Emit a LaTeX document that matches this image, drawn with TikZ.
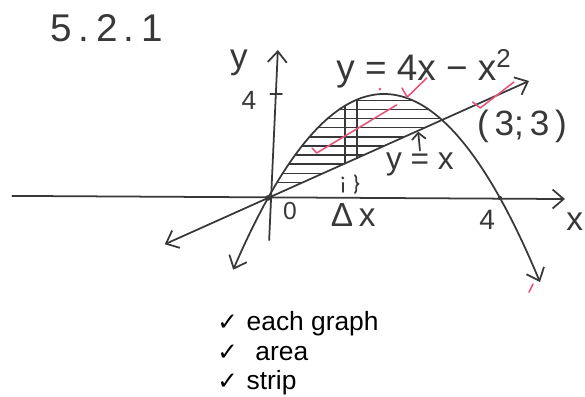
\documentclass[tikz,border=0pt]{standalone}
\usepackage{fontspec}
\setmainfont{Liberation Sans}
\newfontfamily\checkfont{DejaVu Sans}
\usetikzlibrary{arrows.meta}
\definecolor{inkgray}{HTML}{383838}
\definecolor{markred}{HTML}{E5557A}

\begin{document}
\begin{tikzpicture}[
  x=1.16cm, y=0.52cm,
  >={Straight Barb[length=2.2mm, width=3.8mm]},
  pen/.style={draw=inkgray, line width=1pt, line cap=round, line join=round},
  hatchline/.style={draw=inkgray, line width=0.8pt},
  handlabel/.style={text=inkgray, font=\fontsize{18}{18}\selectfont, inner sep=1pt},
  tickmark/.style={draw=markred, line width=0.9pt, line cap=round, line join=round},
  listitem/.style={anchor=base west, font=\fontsize{15}{17}\selectfont, inner sep=0pt},
  listcheck/.style={font=\checkfont\fontsize{15}{15}\selectfont},
]
\useasboundingbox (-4.621,-7.654) rectangle (5.466,7.615);

% Axes
\coordinate (xleft) at (-4.41,0.08);
\coordinate (xright) at (5.07,-0.04);
\coordinate (ybottom) at (0.02,-1.62);
\coordinate (ytop) at (0.17,5.69);
\draw[pen] (xleft) -- (xright);
\draw[pen, ->] (xright) -- ++(0.05,0);
\draw[pen, ->] (ybottom) -- (ytop);
\draw[pen] (0.04,4) -- (0.24,4);

% Shaded region between the two graphs
\begin{scope}
  \clip (0,0) -- plot[domain=0:3, samples=40] (\x,{4*\x-\x*\x}) -- cycle;
  \foreach \h in {0.6,0.95,...,3.9}
    \draw[hatchline] (-0.2,\h) -- (3.6,\h);
\end{scope}

% Strip of width delta x
\draw[pen] (1.33,1.33) -- (1.33,3.551);
\draw[pen] (1.53,1.53) -- (1.53,3.779);
\fill[inkgray] (1.29,0.77) circle (0.9pt);
\draw[pen] (1.29,0.58) -- (1.29,0.23);
\draw[pen] (1.5,0.88) .. controls (1.56,0.75) and (1.48,0.6) .. (1.56,0.54)
  .. controls (1.48,0.48) and (1.56,0.3) .. (1.5,0.19);

% y = x
\coordinate (linelow) at (-1.78,-1.78);
\coordinate (linehigh) at (4.5,4.5);
\draw[pen, <->] (linelow) -- (linehigh);

% y = 4x - x^2
\draw[pen, <->] plot[domain=-0.6:4.69, samples=80, smooth] (\x,{4*\x-\x*\x});

\fill[inkgray] (0,0) circle (1.6pt);
\fill[inkgray] (4,0) circle (1.2pt);

% Labels
\node[handlabel, font=\fontsize{22}{22}\selectfont] (title) at (-2.78,6.54) {5\,.\,2\,.\,1};
\node[handlabel, font=\fontsize{20}{20}\selectfont] (ylab) at (-0.5,5.2) {y};
\node[handlabel, font=\fontsize{15}{15}\selectfont] (yfour) at (-0.33,3.77) {4};
\node[handlabel, font=\fontsize{14}{14}\selectfont] (zero) at (0.38,-0.5) {0};
\node[handlabel, font=\fontsize{19}{19}\selectfont] (dx) at (1.47,-0.65) {Δ\,x};
\node[handlabel, font=\fontsize{16}{16}\selectfont] (xfour) at (3.78,-0.85) {4};
\node[handlabel, font=\fontsize{19}{19}\selectfont] (xlab) at (5.29,-0.9) {x};
\node[handlabel, font=\fontsize{21}{21}\selectfont, anchor=base] (parab) at (2.69,4.5) {y = 4x − x\textsuperscript{2}};
\node[handlabel, font=\fontsize{20}{20}\selectfont] (meet) at (4.38,2.77) {(\,3;\,3\,)};
\node[handlabel] (linelab) at (2.62,1.3) {y = x};
\coordinate (linept) at (2.59,2.55);
\draw[pen, -{Straight Barb[length=1.3mm, width=2.8mm]}] (linelab.north) -- (linept);

% Marker's ticks
\draw[tickmark] (2.31,4.23) -- (2.40,3.88) -- (2.74,4.62);
\fill[markred] (1.93,4.19) circle (0.8pt);
\draw[tickmark] (3.53,3.69) -- (3.66,3.46) -- (4.24,4.46);
\draw[tickmark] (0.76,1.92) -- (0.84,1.73) -- (2.22,3.58);
\draw[tickmark] (4.5,-3.62) -- (4.57,-3.31);

% Mark allocation
\node[listitem] (item1) at (-0.88,-5.115) {{\checkfont\fontsize{14}{14}\selectfont ✓}\hspace{5pt}each graph};
\node[listitem] (item2) at (-0.88,-6.27) {{\checkfont\fontsize{14}{14}\selectfont ✓}\hspace{10pt}area};
\node[listitem] (item3) at (-0.88,-7.385) {{\checkfont\fontsize{14}{14}\selectfont ✓}\hspace{5pt}strip};

\end{tikzpicture}
\end{document}
